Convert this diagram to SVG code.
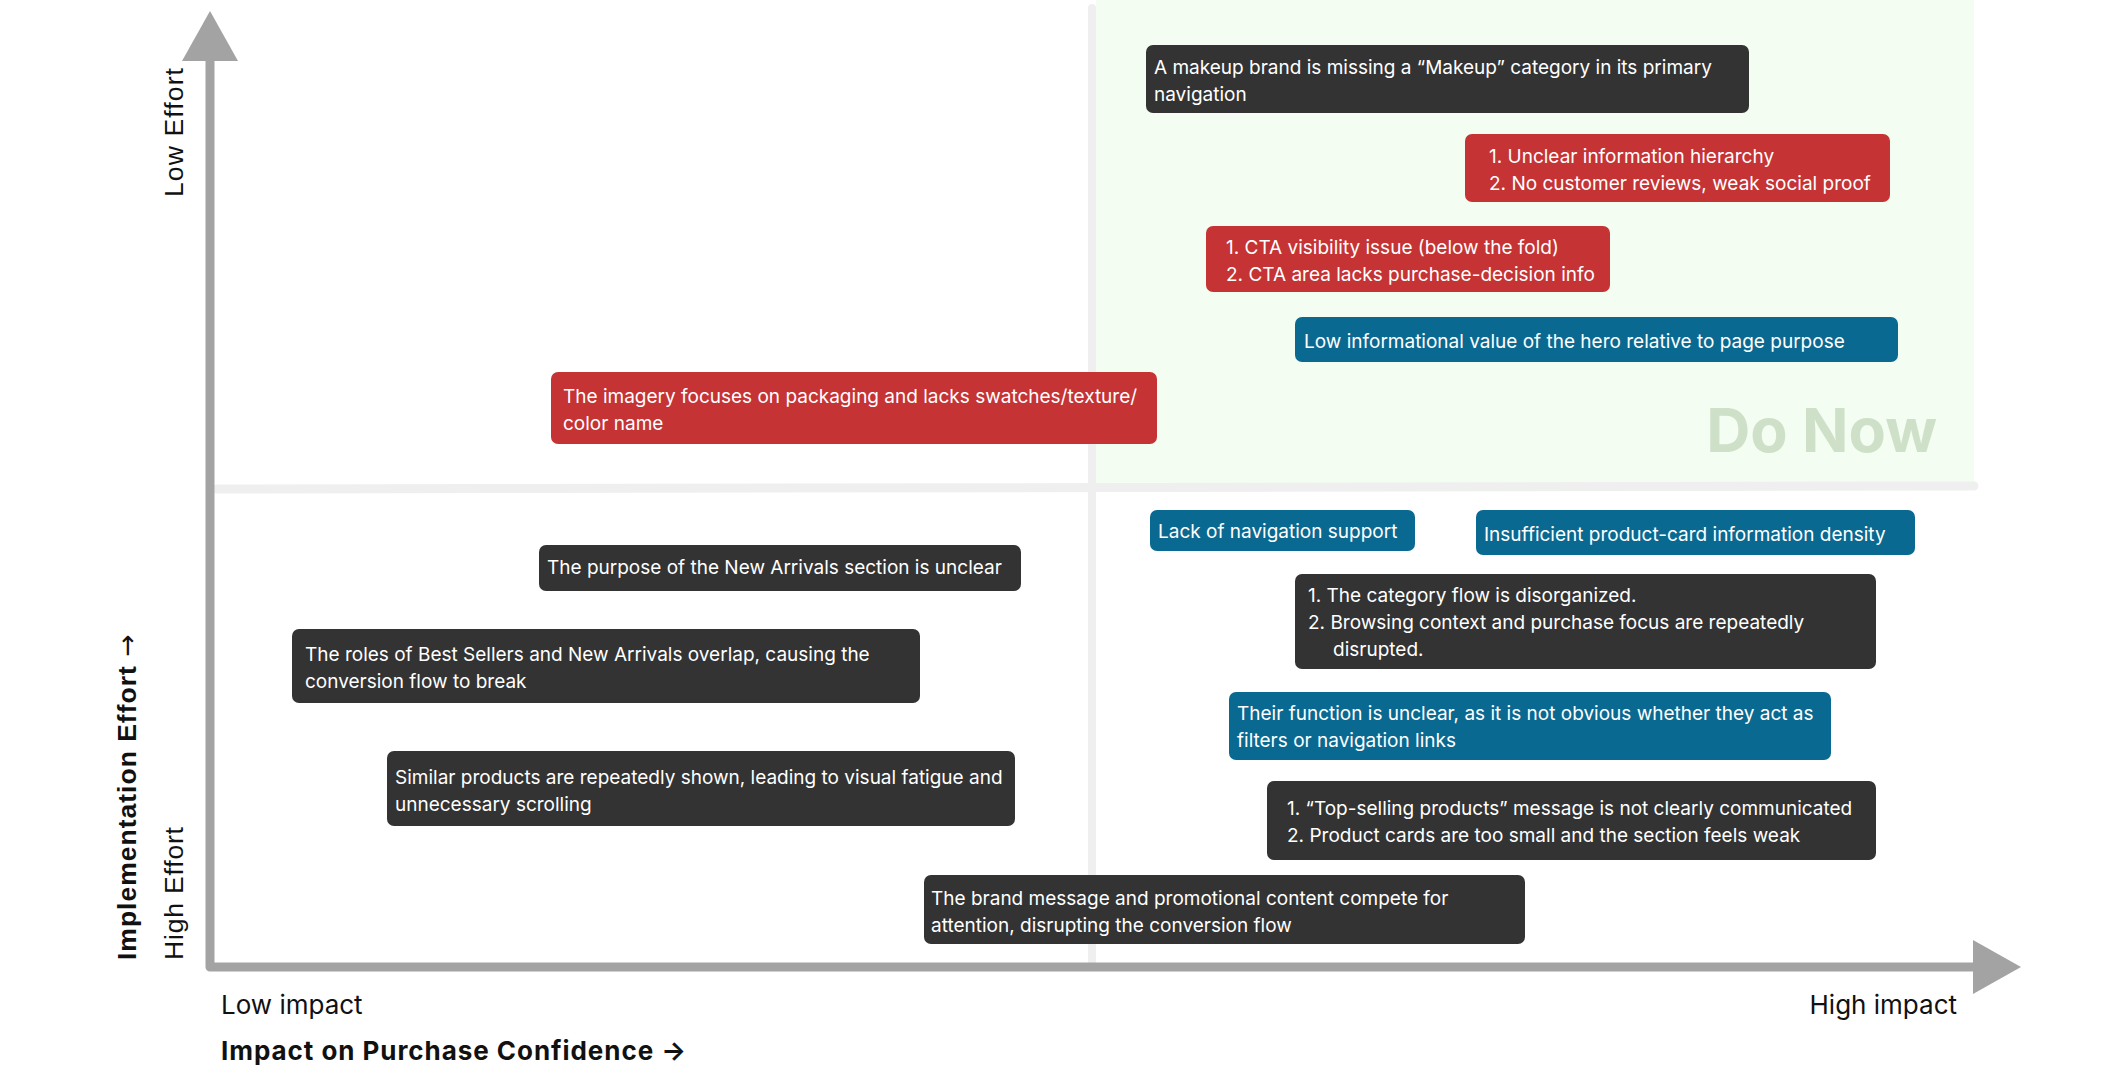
<svg xmlns="http://www.w3.org/2000/svg" width="2127" height="1076" viewBox="0 0 2127 1076">
<style>
.n{font-family:Inter,"Liberation Sans",sans-serif;font-size:19px;fill:#ffffff}
.dk{fill:#333333}
.rd{fill:#c53334}
.bl{fill:#0a6991}
.ax{font-family:"Liberation Sans",Arial,sans-serif;font-size:26.5px;fill:#111111}
.lb{font-family:Inter,"Liberation Sans",sans-serif;font-size:26px;fill:#111111}
.arr{font-family:"DejaVu Sans",sans-serif;font-weight:400}
</style>
<rect width="2127" height="1076" fill="#ffffff"/>
<g id="quadrants">
<rect x="1096" y="0" width="878" height="485" fill="#f3fdf1"/>
<line x1="1092" y1="8" x2="1092" y2="963" stroke="#efefef" stroke-width="8" stroke-linecap="round"/>
<line x1="217" y1="489" x2="1974" y2="486" stroke="#efefef" stroke-width="9" stroke-linecap="round"/>
<text x="1937" y="452" text-anchor="end" font-family="Inter,'Liberation Sans',sans-serif" font-size="61" font-weight="700" fill="#cfe0c8">Do Now</text>
</g>
<g id="connectors">
<path d="M210,58 L210,967 L1976,967" fill="none" stroke="#a3a3a3" stroke-width="9" stroke-linejoin="round"/>
<polygon points="210,11 238,61 182,61" fill="#a3a3a3"/>
<polygon points="2021,967 1973,940 1973,994" fill="#a3a3a3"/>
</g>
<g id="axis-labels">
<text class="ax" textLength="129" lengthAdjust="spacing" transform="translate(183,197) rotate(-90)">Low Effort</text>
<text class="ax" textLength="133" lengthAdjust="spacing" transform="translate(183,960) rotate(-90)">High Effort</text>
<text class="ax" font-weight="700" letter-spacing="1" transform="translate(136,960) rotate(-90)">Implementation Effort <tspan class="arr">→</tspan></text>
<text class="lb" x="221" y="1014">Low impact</text>
<text class="lb" x="1957" y="1014" text-anchor="end">High impact</text>
<text class="lb" x="221" y="1060" font-weight="700" font-size="27.5" textLength="465" lengthAdjust="spacing">Impact on Purchase Confidence →</text>
</g>
<g id="node-makeup-nav">
<rect class="dk" x="1146" y="45" width="603" height="68" rx="7"/>
<text class="n" x="1154" y="73.5">A makeup brand is missing a “Makeup” category in its primary<tspan x="1154" y="100.5">navigation</tspan></text>
</g>
<g id="node-hierarchy">
<rect class="rd" x="1465" y="134" width="425" height="68" rx="7"/>
<text class="n" x="1489" y="162.5">1. Unclear information hierarchy<tspan x="1489" y="189.5">2. No customer reviews, weak social proof</tspan></text>
</g>
<g id="node-cta">
<rect class="rd" x="1206" y="226" width="404" height="66" rx="7"/>
<text class="n" x="1226" y="253.5">1. CTA visibility issue (below the fold)<tspan x="1226" y="280.5">2. CTA area lacks purchase-decision info</tspan></text>
</g>
<g id="node-hero">
<rect class="bl" x="1295" y="317" width="603" height="45" rx="7"/>
<text class="n" x="1304" y="348">Low informational value of the hero relative to page purpose</text>
</g>
<g id="node-imagery">
<rect class="rd" x="551" y="372" width="606" height="72" rx="7"/>
<text class="n" x="563" y="403">The imagery focuses on packaging and lacks swatches/texture/<tspan x="563" y="430">color name</tspan></text>
</g>
<g id="node-nav-support">
<rect class="bl" x="1150" y="510" width="265" height="41" rx="7"/>
<text class="n" x="1158" y="538">Lack of navigation support</text>
</g>
<g id="node-card-density">
<rect class="bl" x="1476" y="510" width="439" height="45" rx="7"/>
<text class="n" x="1484" y="541">Insufficient product-card information density</text>
</g>
<g id="node-category-flow">
<rect class="dk" x="1295" y="574" width="581" height="95" rx="7"/>
<text class="n" x="1308" y="602">1. The category flow is disorganized.<tspan x="1308" y="629">2. Browsing context and purchase focus are repeatedly</tspan><tspan x="1333" y="656">disrupted.</tspan></text>
</g>
<g id="node-function-unclear">
<rect class="bl" x="1229" y="692" width="602" height="68" rx="7"/>
<text class="n" x="1237" y="720">Their function is unclear, as it is not obvious whether they act as<tspan x="1237" y="747">filters or navigation links</tspan></text>
</g>
<g id="node-top-selling">
<rect class="dk" x="1267" y="781" width="609" height="79" rx="7"/>
<text class="n" x="1287" y="815">1. “Top-selling products” message is not clearly communicated<tspan x="1287" y="842">2. Product cards are too small and the section feels weak</tspan></text>
</g>
<g id="node-brand-message">
<rect class="dk" x="924" y="875" width="601" height="69" rx="7"/>
<text class="n" x="931" y="905">The brand message and promotional content compete for<tspan x="931" y="932">attention, disrupting the conversion flow</tspan></text>
</g>
<g id="node-new-arrivals">
<rect class="dk" x="539" y="545" width="482" height="46" rx="7"/>
<text class="n" x="547" y="574">The purpose of the New Arrivals section is unclear</text>
</g>
<g id="node-roles-overlap">
<rect class="dk" x="292" y="629" width="628" height="74" rx="7"/>
<text class="n" x="305" y="661">The roles of Best Sellers and New Arrivals overlap, causing the<tspan x="305" y="688">conversion flow to break</tspan></text>
</g>
<g id="node-similar-products">
<rect class="dk" x="387" y="751" width="628" height="75" rx="7"/>
<text class="n" x="395" y="784">Similar products are repeatedly shown, leading to visual fatigue and<tspan x="395" y="811">unnecessary scrolling</tspan></text>
</g>
</svg>
